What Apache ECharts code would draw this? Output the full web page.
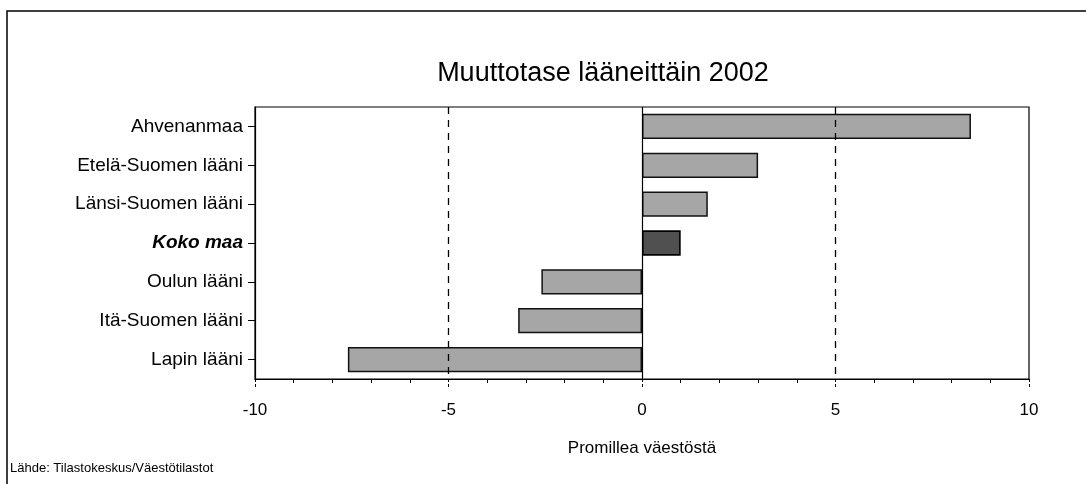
<!DOCTYPE html>
<html>
<head>
<meta charset="utf-8">
<script src="https://cdn.jsdelivr.net/npm/echarts@6/dist/echarts.min.js"></script>
<style>
  html, body { margin: 0; padding: 0; background: #fff; }
  #chart { width: 1086px; height: 484px; }
</style>
</head>
<body>
<div id="chart"></div>
<script>
// Net migration by province, 2002 (per mille of population)
const regions = ['Ahvenanmaa', 'Etelä-Suomen lääni', 'Länsi-Suomen lääni', 'Koko maa', 'Oulun lääni', 'Itä-Suomen lääni', 'Lapin lääni'];
const netMigration = [8.5, 3.0, 1.7, 1.0, -2.6, -3.2, -7.6];
const wholeCountry = 'Koko maa';
const dashedRefs = [-5, 5];
const xTicks = [-10, -5, 0, 5, 10];

const FONT = '"Liberation Sans", Arial, sans-serif';

const chart = echarts.init(document.getElementById('chart'));

chart.setOption({
  backgroundColor: '#ffffff',
  animation: false,
  title: {
    text: 'Muuttotase lääneittäin 2002',
    left: 598, top: 55,
    textAlign: 'center',
    textStyle: { fontFamily: FONT, fontSize: 27, fontWeight: 'normal', color: '#000' }
  },
  grid: {
    left: 255, right: 57, top: 107, bottom: 105,
    show: true, borderColor: '#000', borderWidth: 1.2, backgroundColor: 'transparent'
  },
  xAxis: {
    type: 'value',
    min: xTicks[0], max: xTicks[xTicks.length - 1], interval: 5,
    name: 'Promillea väestöstä',
    nameLocation: 'middle', nameGap: 61,
    nameTextStyle: { fontFamily: FONT, fontSize: 17, color: '#000' },
    axisLine: { show: true, onZero: false, lineStyle: { color: '#000', width: 1.2 } },
    axisTick: { show: true, inside: false, length: 9, lineStyle: { color: '#000', type: [3, 2] } },
    minorTick: { show: true, splitNumber: 5, length: 4, lineStyle: { color: '#000' } },
    axisLabel: { margin: 23, fontFamily: FONT, fontSize: 17, color: '#000' },
    splitLine: { show: false }
  },
  yAxis: {
    type: 'category',
    data: regions,
    inverse: true,
    axisLine: { show: true, onZero: false, lineStyle: { color: '#000', width: 1.2 } },
    axisTick: { show: true, alignWithLabel: true, length: 7, lineStyle: { color: '#000' } },
    axisLabel: {
      margin: 12, fontFamily: FONT, fontSize: 19, color: '#000',
      formatter: v => v === wholeCountry ? '{b|' + v + '}' : v,
      rich: { b: { fontFamily: FONT, fontSize: 19, fontWeight: 'bold', fontStyle: 'italic', color: '#000' } }
    }
  },
  series: [{
    type: 'bar',
    data: netMigration.map((v, i) => ({
      value: v,
      itemStyle: regions[i] === wholeCountry
        ? { color: '#505050', borderColor: '#000', borderWidth: 1.6 }
        : { color: '#a6a6a6', borderColor: '#111', borderWidth: 1.5 }
    })),
    barWidth: '65%',
    markLine: {
      silent: true, symbol: 'none', label: { show: false },
      data: [
        ...dashedRefs.map(x => ({ xAxis: x, lineStyle: { color: '#000', type: [7, 6], width: 1.3 } })),
        { xAxis: 0, lineStyle: { color: '#000', type: 'solid', width: 1.2 } }
      ]
    }
  }],
  graphic: [
    { type: 'polyline', shape: { points: [[7, 484], [7, 11], [1086, 11]] }, style: { stroke: '#000', lineWidth: 1.5, fill: null } },
    { type: 'text', left: 10, top: 462, style: { text: 'Lähde: Tilastokeskus/Väestötilastot', fontFamily: FONT, fontSize: 13, fill: '#000' } }
  ]
});
</script>
</body>
</html>
